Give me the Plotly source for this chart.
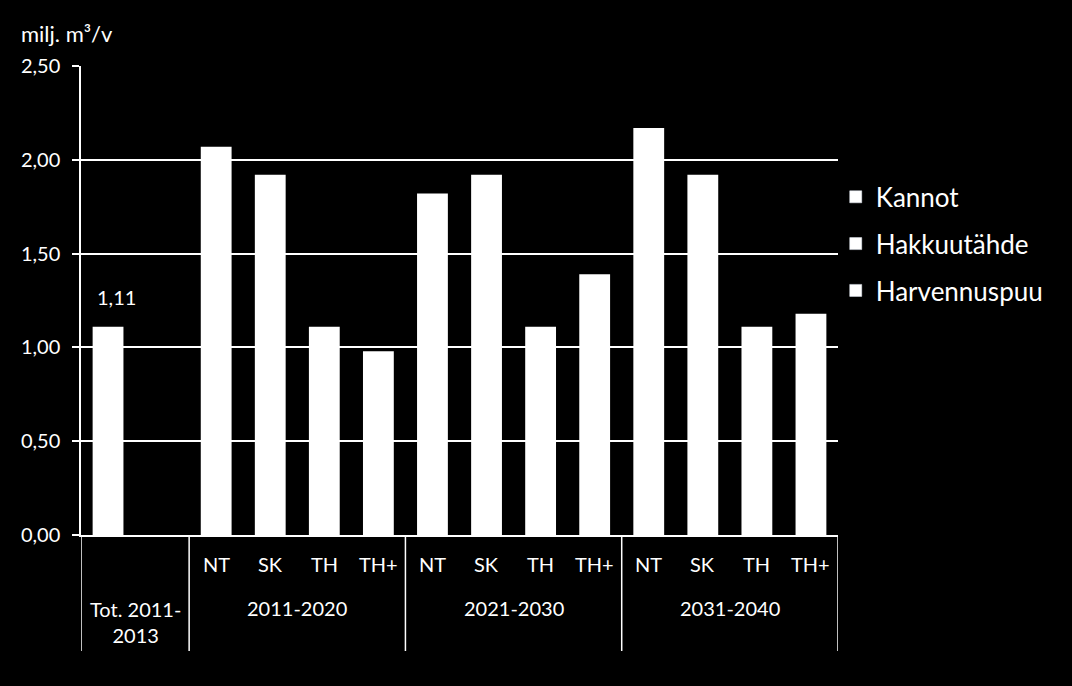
import plotly.graph_objects as go

# --- data ---
slots = ["Tot", "Tot_", "A_NT", "A_SK", "A_TH", "A_THp",
         "B_NT", "B_SK", "B_TH", "B_THp", "C_NT", "C_SK", "C_TH", "C_THp"]
sub_labels = ["", "", "NT", "SK", "TH", "TH+", "NT", "SK", "TH", "TH+", "NT", "SK", "TH", "TH+"]
totals = [1.11, None, 2.07, 1.92, 1.11, 0.98, 1.82, 1.92, 1.11, 1.39, 2.17, 1.92, 1.11, 1.18]
labelled = ["Tot"]
groups = ["Tot. 2011-<br>2013", "2011-2020", "2021-2030", "2031-2040"]
group_span = [(0, 1), (2, 5), (6, 9), (10, 13)]
series_names = ["Kannot", "Hakkuutähde", "Harvennuspuu"]

FONT = "Lato"
FS = 20
fig = go.Figure()
fig.add_trace(go.Bar(x=slots, y=totals, marker=dict(color="white", line=dict(width=0)),
                     showlegend=False, hoverinfo="y"))
for n in series_names:
    fig.add_trace(go.Bar(x=[None], y=[None], name=n, marker=dict(color="white"),
                         legendgroup=n, showlegend=True))

PLOT_H = 469
def py(px):  # pixels below the x-axis to paper coords
    return -px / PLOT_H

annotations = []
for s, v in zip(slots, totals):
    if s in labelled:
        annotations.append(dict(x=s, y=v, xref="x", yref="y", text=f"{v:.2f}".replace(".", ","),
                                showarrow=False, yanchor="bottom", yshift=16, xshift=8,
                                font=dict(color="white", size=FS, family=FONT)))
for s, lab in zip(slots, sub_labels):
    if lab:
        annotations.append(dict(x=s, y=py(29), xref="x", yref="paper", text=lab, showarrow=False,
                                yanchor="middle",
                                font=dict(color="white", size=FS, family=FONT)))
for g, (a, b) in zip(groups, group_span):
    yy = py(87) if "<br>" in g else py(73)
    annotations.append(dict(x=(a + b) / 2, y=yy, xref="x", yref="paper", text=g, showarrow=False,
                            yanchor="middle",
                            font=dict(color="white", size=FS, family=FONT)))
annotations.append(dict(x=0, y=1, xref="paper", yref="paper", xshift=-62, yshift=17,
                        text="milj. m³/v", showarrow=False, xanchor="left", yanchor="bottom",
                        font=dict(color="white", size=22, family=FONT)))

shapes = []
for xb in [-0.5, 1.5, 5.5, 9.5, 13.5]:
    shapes.append(dict(type="line", xref="x", yref="paper", x0=xb, x1=xb, y0=0, y1=py(116),
                       line=dict(color="white", width=1.5)))

fig.update_layout(
    width=1072, height=686,
    paper_bgcolor="black", plot_bgcolor="black",
    margin=dict(l=81, r=234, t=66, b=151),
    separators=", ",
    bargap=0.43,
    font=dict(family=FONT, color="white"),
    xaxis=dict(range=[-0.5, 13.5], showticklabels=False, showgrid=False, showline=True,
               linecolor="white", linewidth=1.5, ticks="", fixedrange=True),
    yaxis=dict(range=[0, 2.5], dtick=0.5, tickformat=".2f", showgrid=True, gridcolor="white",
               gridwidth=1.5, showline=True, linecolor="white", linewidth=1.5, ticks="outside",
               ticklen=7, tickcolor="white", tickwidth=1.5, zeroline=False, ticklabelstandoff=8,
               tickfont=dict(color="white", size=FS, family=FONT)),
    legend=dict(x=0.997, y=0.771, xanchor="left", yanchor="top", bgcolor="rgba(0,0,0,0)",
                font=dict(color="white", size=26, family=FONT), traceorder="grouped",
                tracegroupgap=10, itemwidth=30),
    annotations=annotations, shapes=shapes,
)
fig.write_html("out.html")
